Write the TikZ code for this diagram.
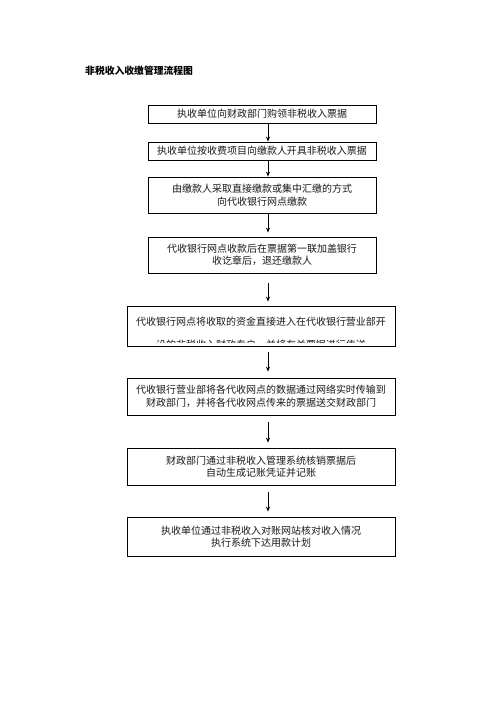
\documentclass[tikz,border=0pt]{standalone}
\usepackage{fontspec}
\newfontfamily\cjk{Noto Sans CJK SC}
\usetikzlibrary{arrows.meta}
\begin{document}
\begin{tikzpicture}[x=1pt,y=-1pt,
  flowbox/.style={draw=black,line width=0.8pt,rectangle,inner sep=0pt,
    align=center,font=\cjk\fontsize{10}{12.5}\selectfont,text=black!90},
  arr/.style={draw=black,line width=0.8pt,-{Stealth[length=5pt,width=4pt]}},
  lbl/.style={inner sep=0pt,font=\cjk\fontsize{10}{12.5}\selectfont,text=black!90}]
\useasboundingbox[fill=white] (0,0) rectangle (496,702);
\node[anchor=west,inner sep=0pt,font=\cjk\bfseries\fontsize{9.8}{12}\selectfont] (title) at (85,71) {非税收入收缴管理流程图};
\coordinate (ax) at (268,0);
\node[flowbox,minimum width=228pt,minimum height=18pt] (b1) at (262,114) {执收单位向财政部门购领非税收入票据};
\node[flowbox,minimum width=228pt,minimum height=18pt] (b2) at (262,151) {执收单位按收费项目向缴款人开具非税收入票据};
\node[flowbox,minimum width=228pt,minimum height=36pt] (b3) at (262,195) {由缴款人采取直接缴款或集中汇缴的方式\\向代收银行网点缴款};
\node[flowbox,minimum width=228pt,minimum height=36pt] (b4) at (262,255) {代收银行网点收款后在票据第一联加盖银行\\收讫章后，退还缴款人};
\node[flowbox,minimum width=268pt,minimum height=40pt] (b5) at (261,326) {};
\begin{scope}
  \clip (127,306) rectangle (395,342);
  \node[lbl] (b5a) at (261,322) {代收银行网点将收取的资金直接进入在代收银行营业部开};
  \node[lbl] (b5b) at (261,344.5) {设的非税收入财政专户，并将有关票据进行传送};
\end{scope}
\node[flowbox,minimum width=268pt,minimum height=37pt] (b6) at (261,396.5) {代收银行营业部将各代收网点的数据通过网络实时传输到\\财政部门，并将各代收网点传来的票据送交财政部门};
\node[flowbox,minimum width=268pt,minimum height=37pt] (b7) at (261,466.5) {财政部门通过非税收入管理系统核销票据后\\自动生成记账凭证并记账};
\node[flowbox,minimum width=268pt,minimum height=39pt] (b8) at (261,536.5) {执收单位通过非税收入对账网站核对收入情况\\执行系统下达用款计划};
\draw[arr] (b1.south -| ax) -- (b2.north -| ax);
\draw[arr] (b2.south -| ax) -- (b3.north -| ax);
\draw[arr,shorten >=4pt] (b3.south -| ax) -- (b4.north -| ax);
\draw[arr,shorten <=10pt,shorten >=4pt] (b4.south -| ax) -- (b5.north -| ax);
\draw[arr,shorten <=6pt,shorten >=6pt] (b5.south -| ax) -- (b6.north -| ax);
\draw[arr,shorten <=7pt,shorten >=5pt] (b6.south -| ax) -- (b7.north -| ax);
\draw[arr,shorten <=7pt,shorten >=5pt] (b7.south -| ax) -- (b8.north -| ax);
\end{tikzpicture}
\end{document}
